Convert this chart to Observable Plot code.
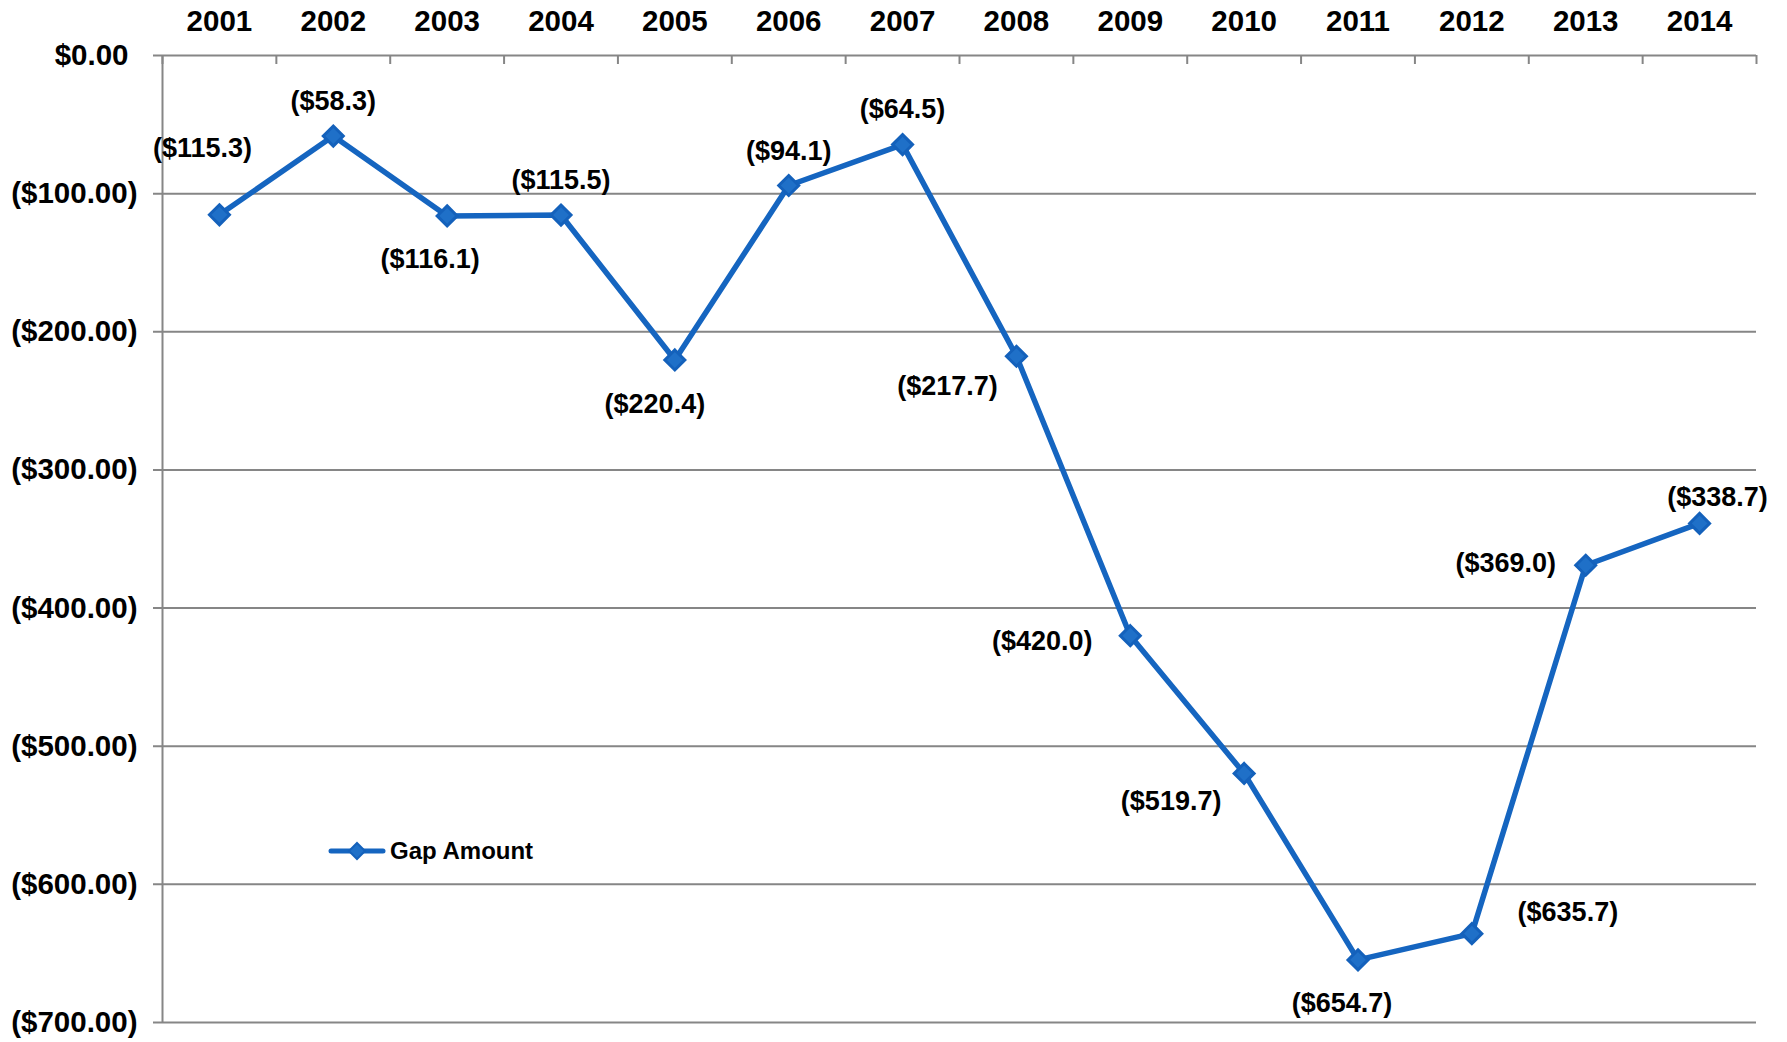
<!DOCTYPE html>
<html>
<head>
<meta charset="utf-8">
<script src="https://cdn.jsdelivr.net/npm/d3@7"></script>
<script src="https://cdn.jsdelivr.net/npm/@observablehq/plot@0.6"></script>
<style>
  html, body { margin: 0; background: #fff; font-family: "Liberation Sans", Arial, sans-serif; overflow: hidden; }
  #wrap { position: relative; width: 1787px; height: 1042px; }
  #legend { position: absolute; left: 328px; top: 837px; display: flex; align-items: center;
            font: bold 24px "Liberation Sans", Arial, sans-serif; color: #000; }
  #legend svg { margin-right: 4px; }
</style>
</head>
<body>
<div id="wrap">
  <div id="chart"></div>
  <div id="legend"></div>
</div>
<script>
// ---- data ----
const years = ["2001","2002","2003","2004","2005","2006","2007","2008","2009","2010","2011","2012","2013","2014"];
const gapAmount = [-115.3, -58.3, -116.1, -115.5, -220.4, -94.1, -64.5, -217.7, -420.0, -519.7, -654.7, -635.7, -369.0, -338.7];
const yTicks = [0, -100, -200, -300, -400, -500, -600, -700];
const seriesName = "Gap Amount";

// ---- layout / style ----
const W = 1787, H = 1042;
const mL = 162, mR = 31, mT = 55, mB = 20;
const bw = (W - mL - mR) / years.length;
const plotH = H - mT - mB;
const lineColor = "#1565C0";
const gridColor = "#868686";
const font = "Liberation Sans, Arial, sans-serif";
const axisFont = 29.5;
const labelFont = 27;

const table = years.map((year, i) => ({year, value: gapAmount[i]}));

// label placement offsets (px) per point, mimicking the original auto placement
const labelOffset = {
  "2001": [-17, -66], "2002": [0, -35], "2003": [-17, 43], "2004": [0, -35],
  "2005": [-20, 44], "2006": [0, -34], "2007": [0, -35], "2008": [-69, 30],
  "2009": [-88, 6], "2010": [-73, 28], "2011": [-16, 43], "2012": [96, -21],
  "2013": [-80, -2], "2014": [18, -26]
};

const fmtLabel = v => `($${Math.abs(v).toFixed(1)})`;
const fmtTick = v => v === 0 ? "$0.00" : `($${Math.abs(v).toFixed(2)})`;

const labelMarks = table.map(d => Plot.text([d], {
  x: "year", y: "value", text: d => fmtLabel(d.value),
  dx: labelOffset[d.year][0], dy: labelOffset[d.year][1],
  fontSize: labelFont, fontWeight: "bold", fill: "#000"
}));

const chart = Plot.plot({
  width: W, height: H,
  marginLeft: mL, marginRight: mR, marginTop: mT, marginBottom: mB,
  style: {fontFamily: font, background: "#fff", overflow: "visible", maxWidth: "none"},
  x: {type: "band", domain: years, padding: 0, round: false, label: null},
  y: {domain: [-700, 0], label: null},
  marks: [
    // gridlines (extended left as tick marks)
    Plot.ruleY(yTicks, {stroke: gridColor, strokeWidth: 2, insetLeft: -9}),
    // left axis line
    Plot.ruleX([years[0]], {dx: -bw / 2, stroke: gridColor, strokeWidth: 2}),
    // top category boundary ticks
    Plot.ruleX(years, {dx: -bw / 2, stroke: gridColor, strokeWidth: 2, insetBottom: plotH - 9}),
    Plot.ruleX([years[years.length - 1]], {dx: bw / 2, stroke: gridColor, strokeWidth: 2, insetBottom: plotH - 9}),
    Plot.axisX({anchor: "top", label: null, tickSize: 0, tickPadding: 25, fontSize: axisFont, fontWeight: "bold", fill: "#000"}),
    Plot.axisY({ticks: yTicks.filter(v => v !== 0), label: null, tickSize: 0, tickPadding: 25, tickFormat: fmtTick,
                fontSize: axisFont, fontWeight: "bold", fill: "#000"}),
    Plot.axisY({ticks: [0], label: null, tickSize: 0, tickPadding: 34, tickFormat: fmtTick,
                fontSize: axisFont, fontWeight: "bold", fill: "#000"}),
    Plot.line(table, {x: "year", y: "value", stroke: lineColor, strokeWidth: 5.5}),
    Plot.dot(table, {x: "year", y: "value", symbol: "diamond2", r: 9,
                     fill: "#1F70C8", stroke: "#1461BB", strokeWidth: 3}),
    ...labelMarks
  ]
});
document.getElementById("chart").appendChild(chart);

// legend
const lg = document.getElementById("legend");
lg.innerHTML = `<svg width="58" height="22" viewBox="0 0 58 22">
  <line x1="3" y1="11" x2="55" y2="11" stroke="${lineColor}" stroke-width="5" stroke-linecap="round"/>
  <path d="M29,3 L37,11 L29,19 L21,11 Z" fill="#1F70C8" stroke="#1461BB" stroke-width="2"/>
</svg><span>${seriesName}</span>`;
</script>
</body>
</html>
